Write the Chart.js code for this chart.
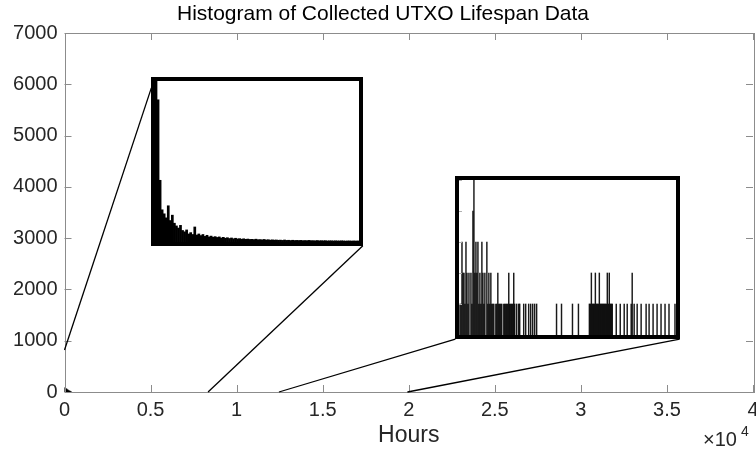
<!DOCTYPE html>
<html lang="en">
<head>
  <meta charset="UTF-8" />
  <title>UTXO Lifespan Histogram</title>
  <script src="https://cdn.jsdelivr.net/npm/chart.js"></script>
  <style>
    body { margin: 0; background: #fff; }
    #wrap { position: relative; width: 756px; height: 450px; }
    .inset { position: absolute; background: #fff; border: 4px solid #000; box-sizing: border-box; }
    .inset canvas { display: block; }
  </style>
</head>
<body>
  <div id="wrap">
    <canvas id="mainChart" width="756" height="450"></canvas>
    <div class="inset" id="box1"><canvas id="inset1"></canvas></div>
    <div class="inset" id="box2"><canvas id="inset2"></canvas></div>
  </div>

  <script>
    // main histogram (only the small wedge next to 0 is visible)
    const mainHours = [0, 60, 120, 180, 240, 300, 360];
    const mainCounts = [85, 70, 55, 42, 30, 20, 10];

    // inset 1: first ~8300 hours
    const inset1BinWidth = 84;
    const inset1Counts = [
      6000, 5300, 2300, 1200, 1050, 900, 1350, 800, 1000, 700,
      600, 520, 620, 430, 380, 450, 300, 350, 280, 560,
      260, 300, 240, 280, 210, 250, 190, 220, 180, 200,
      170, 190, 150, 175, 140, 160, 130, 150, 120, 140,
      115, 125, 105, 120, 100, 110, 95, 100, 90, 105,
      85, 90, 80, 95, 75, 85, 70, 80, 70, 75,
      65, 70, 60, 75, 60, 65, 55, 65, 55, 60,
      55, 60, 50, 55, 50, 60, 50, 50, 45, 55,
      45, 50, 45, 50, 40, 45, 45, 40, 45, 40,
      40, 45, 40, 35, 40, 40, 35, 40, 35, 40
    ];

    // inset 2: 12500 - 20000 hours
    const inset2Hours = [
      12534, 12569, 12603, 12638, 12672, 12706, 12741, 12775, 12810, 12844,
      12913, 12947, 12982, 13016, 13050, 13085, 13119, 13154, 13188, 13222,
      13257, 13291, 13326, 13360, 13394, 13463, 13498, 13532, 13566, 13601,
      13635, 13670, 13704, 13773, 13807, 13842, 13876, 13910, 13945, 13979,
      14048, 14082, 14117, 14151, 14186, 14220, 14254, 14289, 14323, 14358,
      14392, 14426, 14495, 14564, 14598, 14736, 14805, 14908, 14977, 15046,
      15114, 15183, 15871, 16043, 16422, 16628, 17006, 17041, 17075, 17110,
      17144, 17178, 17213, 17247, 17282, 17316, 17350, 17385, 17419, 17454,
      17488, 17522, 17557, 17591, 17626, 17660, 17694, 17729, 17763, 17798,
      17935, 18073, 18210, 18314, 18451, 18486, 18554, 18658, 18795, 18967,
      19070, 19208, 19346, 19483, 19621, 19758, 19965
    ];
    const inset2Counts = [
      1, 1, 3, 2, 2, 1, 3, 2, 1, 2,
      2, 1, 4, 5, 2, 3, 2, 3, 1, 2,
      1, 3, 2, 1, 2, 3, 1, 2, 1, 2,
      1, 1, 1, 1, 1, 2, 1, 1, 1, 1,
      1, 1, 1, 1, 1, 2, 1, 1, 1, 1,
      2, 1, 1, 1, 1, 1, 1, 1, 1, 1,
      1, 1, 1, 1, 1, 1, 1, 1, 2, 1,
      1, 1, 2, 1, 1, 1, 2, 1, 1, 1,
      1, 1, 1, 1, 2, 1, 2, 1, 1, 1,
      1, 1, 1, 1, 1, 2, 1, 1, 1, 1,
      1, 1, 1, 1, 1, 1, 1
    ];

    // where the zoom boxes sit, in main axis units
    const insetAreas = {
      box1: { x: [5046, 17332], y: [2852, 6146] },
      box2: { x: [22709, 35742], y: [1033, 4211] }
    };
    const connectors = [
      [[0, 820], [5046, 5930]],
      [[8341, 0], [17332, 2852]],
      [[12459, 0], [22709, 1033]],
      [[19925, 0], [35742, 1033]]
    ];

    const FONT = "'Liberation Sans', Arial, Helvetica, sans-serif";
    const axisGrey = '#8c8c8c';
    const textDark = '#262626';

    // MATLAB style box with inward ticks, zoom lines and the x10^4 note
    const matlabAxes = {
      id: 'matlabAxes',
      afterDraw(chart) {
        const { ctx, chartArea: a, scales: { x, y } } = chart;
        ctx.save();
        ctx.strokeStyle = axisGrey;
        ctx.lineWidth = 1;
        ctx.beginPath();
        x.ticks.forEach(t => {
          const px = Math.round(x.getPixelForValue(t.value)) + 0.5;
          ctx.moveTo(px, a.bottom); ctx.lineTo(px, a.bottom - 7);
          ctx.moveTo(px, a.top); ctx.lineTo(px, a.top + 7);
        });
        y.ticks.forEach(t => {
          const py = Math.round(y.getPixelForValue(t.value)) + 0.5;
          ctx.moveTo(a.left, py); ctx.lineTo(a.left + 7, py);
          ctx.moveTo(a.right, py); ctx.lineTo(a.right - 7, py);
        });
        ctx.stroke();
        ctx.strokeRect(Math.round(a.left) + 0.5, Math.round(a.top) + 0.5,
          Math.round(a.right - a.left), Math.round(a.bottom - a.top));

        ctx.strokeStyle = '#000';
        ctx.lineWidth = 1.3;
        connectors.forEach(([p, q]) => {
          ctx.beginPath();
          ctx.moveTo(x.getPixelForValue(p[0]), y.getPixelForValue(p[1]));
          ctx.lineTo(x.getPixelForValue(q[0]), y.getPixelForValue(q[1]));
          ctx.stroke();
        });

        ctx.fillStyle = textDark;
        ctx.textBaseline = 'alphabetic';
        ctx.textAlign = 'left';
        ctx.font = '20px ' + FONT;
        ctx.fillText('\u00d710', a.right - 50, 446);
        ctx.font = '14px ' + FONT;
        ctx.fillText('4', a.right - 12, 436);
        ctx.restore();
      }
    };

    const mainChart = new Chart(document.getElementById('mainChart'), {
      type: 'bar',
      data: {
        datasets: [{
          data: mainHours.map((h, i) => ({ x: h, y: mainCounts[i] })),
          backgroundColor: '#000',
          barThickness: 1.2
        }]
      },
      options: {
        responsive: false,
        animation: false,
        events: [],
        layout: { padding: { left: 13, right: 3, top: 0, bottom: 0 } },
        plugins: {
          legend: { display: false },
          tooltip: { enabled: false },
          title: {
            display: true,
            text: 'Histogram of Collected UTXO Lifespan Data',
            color: '#000',
            font: { family: FONT, size: 21, weight: 'normal' },
            padding: { top: 2, bottom: 5.8 }
          }
        },
        scales: {
          x: {
            type: 'linear',
            offset: false,
            min: 0,
            max: 40000,
            grid: { display: false, drawTicks: false },
            border: { display: false },
            ticks: {
              stepSize: 5000,
              padding: 6,
              color: textDark,
              font: { family: FONT, size: 20 },
              callback: v => String(v / 10000)
            },
            title: {
              display: true,
              text: 'Hours',
              color: textDark,
              font: { family: FONT, size: 23 },
              padding: { top: 0, bottom: 1 }
            },
            afterFit: s => { s.height = 58; s.paddingRight = 0; s.paddingLeft = 0; }
          },
          y: {
            min: 0,
            max: 7000,
            grid: { display: false, drawTicks: false },
            border: { display: false },
            ticks: {
              stepSize: 1000,
              padding: 7,
              color: textDark,
              font: { family: FONT, size: 20 },
              callback: v => String(v)
            },
            afterFit: s => { s.width = 51.5; }
          }
        }
      },
      plugins: [matlabAxes]
    });

    function placeInset(id) {
      const area = insetAreas[id];
      const { x, y } = mainChart.scales;
      const l = Math.round(x.getPixelForValue(area.x[0]));
      const r = Math.round(x.getPixelForValue(area.x[1]));
      const t = Math.round(y.getPixelForValue(area.y[1]));
      const b = Math.round(y.getPixelForValue(area.y[0]));
      const box = document.getElementById(id);
      box.style.left = l + 'px';
      box.style.top = t + 'px';
      box.style.width = (r - l) + 'px';
      box.style.height = (b - t) + 'px';
      const cv = box.querySelector('canvas');
      cv.width = r - l - 8;
      cv.height = b - t - 8;
      return cv;
    }

    const bare = {
      responsive: false,
      animation: false,
      events: [],
      layout: { padding: 0 },
      plugins: { legend: { display: false }, tooltip: { enabled: false } }
    };

    new Chart(placeInset('box1'), {
      type: 'bar',
      data: {
        labels: inset1Counts.map((_, i) => i * inset1BinWidth),
        datasets: [{
          data: inset1Counts,
          backgroundColor: '#000',
          barPercentage: 1,
          categoryPercentage: 1
        }]
      },
      options: {
        ...bare,
        scales: {
          x: { display: false },
          y: { display: false, min: 0, max: 6000 }
        }
      }
    });

    // small inward ticks on the left edge of the second inset
    const insetTicks = {
      id: 'insetTicks',
      afterDraw(chart) {
        const { ctx, chartArea: a, scales: { y } } = chart;
        ctx.save();
        ctx.strokeStyle = '#b0b0b0';
        ctx.lineWidth = 1;
        ctx.beginPath();
        y.ticks.forEach(t => {
          const py = Math.round(y.getPixelForValue(t.value)) + 0.5;
          ctx.moveTo(a.left, py); ctx.lineTo(a.left + 3, py);
        });
        ctx.stroke();
        ctx.restore();
      }
    };

    new Chart(placeInset('box2'), {
      type: 'bar',
      data: {
        datasets: [{
          data: inset2Hours.map((h, i) => ({ x: h, y: inset2Counts[i] })),
          backgroundColor: 'rgba(0,0,0,0.9)',
          barThickness: 0.8
        }]
      },
      options: {
        ...bare,
        scales: {
          x: { type: 'linear', display: false, offset: false, min: 12500, max: 20000 },
          y: { display: false, min: 0, max: 5, ticks: { stepSize: 0.5 } }
        }
      },
      plugins: [insetTicks]
    });
  </script>
</body>
</html>
